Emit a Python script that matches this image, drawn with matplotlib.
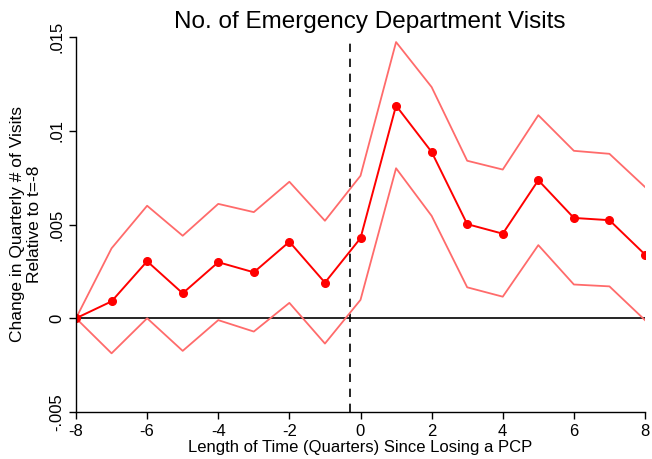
import numpy as np
import matplotlib
matplotlib.use("Agg")
import matplotlib.pyplot as plt

plt.rcParams['font.family'] = ['Liberation Sans', 'DejaVu Sans']

quarters = [-8, -7, -6, -5, -4, -3, -2, -1, 0, 1, 2, 3, 4, 5, 6, 7, 8]
estimate = [0.0, 0.0009, 0.00304, 0.00133, 0.00299, 0.00245, 0.00408, 0.0019,
            0.00427, 0.01134, 0.00887, 0.00502, 0.00451, 0.00736, 0.00535, 0.00523, 0.0034]
upper_ci = [0.0, 0.00373, 0.0060, 0.0044, 0.0061, 0.00566, 0.00728, 0.0052,
            0.0076, 0.01473, 0.01233, 0.0084, 0.00793, 0.01083, 0.00893, 0.00877, 0.0070]
lower_ci = [0.0, -0.00187, 0.0, -0.00174, -0.0001, -0.00071, 0.00082, -0.00135,
            0.00098, 0.0080, 0.00546, 0.00165, 0.00115, 0.0039, 0.0018, 0.0017, -0.0001]
event_line = -0.3
yticks = [-0.005, 0, 0.005, 0.01, 0.015]
ytick_labels = ['-.005', '0', '.005', '.01', '.015']
xticks = [-8, -6, -4, -2, 0, 2, 4, 6, 8]

fig = plt.figure(figsize=(6.52, 4.59), dpi=100)
ax = fig.add_axes([76/652, 1-412/459, (645-76)/652, (412-37)/459])

ax.plot(quarters, upper_ci, color='#ff6b6b', lw=1.3)
ax.plot(quarters, lower_ci, color='#ff6b6b', lw=1.3)
ax.plot(quarters, estimate, color='#ff0000', lw=1.4, marker='o', ms=5.5)
ax.axhline(0, color='black', lw=1.2, zorder=1)
ax.axvline(event_line, color='black', lw=1.2, ls=(0, (5, 4)), zorder=1)

ax.set_xlim(-8, 8)
ax.set_ylim(-0.005, 0.015)
ax.set_xticks(xticks)
ax.set_xticklabels([str(t) for t in xticks])
ax.set_yticks(yticks)
ax.set_yticklabels(ytick_labels, rotation=90, va='center')
ax.tick_params(labelsize=12, length=5, width=1, direction='out')
for s in ['top', 'right']:
    ax.spines[s].set_visible(False)
ax.spines['left'].set_linewidth(1)
ax.spines['bottom'].set_linewidth(1)

ax.set_xlabel('Length of Time (Quarters) Since Losing a PCP', fontsize=12, labelpad=1)
ax.set_ylabel('Change in Quarterly # of Visits\nRelative to t=-8', fontsize=12.5, labelpad=5, linespacing=1.2)
fig.text(370/652, 1-22/459, 'No. of Emergency Department Visits', fontsize=17.5, ha='center', va='center')

fig.savefig('out.png', dpi=100)
